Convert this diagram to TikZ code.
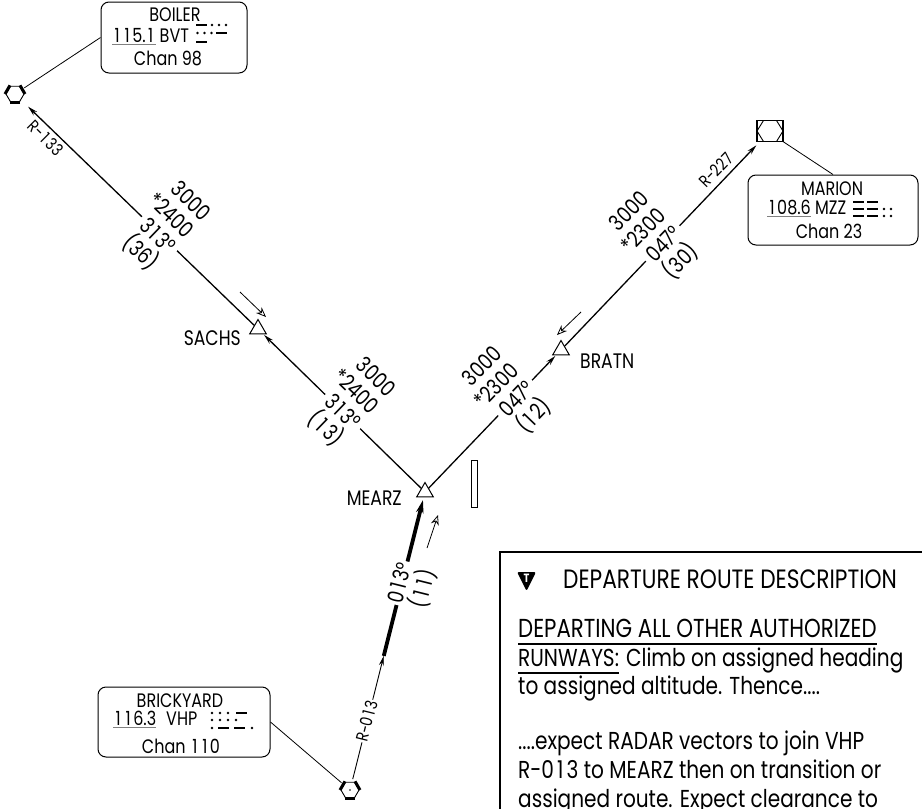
\documentclass[tikz,border=0pt]{standalone}
\usepackage{fontspec}
\setmainfont{Poppins}[FakeStretch=0.82]
\usetikzlibrary{arrows.meta,calc,shapes.geometric}
\newcommand\myul[1]{\setbox0\hbox{#1}\rlap{\rule[-7.5pt]{\wd0}{1.1pt}}\box0\relax}
\newcommand\myulg[1]{\setbox0\hbox{#1}\rlap{\textcolor{gray}{\rule[-3pt]{\wd0}{1pt}}}\box0\relax}
\newcommand\one{\hbox to \fontcharwd\font`0{\hss 1\hss}}
\tikzset{
 vortac/.pic={
   \draw[line width=0.9pt] (0:9) -- (-60:9) -- (-120:9) -- (180:9) -- (120:9) -- (60:9) -- cycle;
   \draw[line width=3pt] (0:10) -- (-60:10);
   \draw[line width=3pt] (-120:10) -- (180:10);
   \draw[line width=3pt] (60:10) -- (120:10);
 },
 vordme/.pic={
   \draw[line width=1.8pt] (-13,-10.5) rectangle (13,10.5);
   \draw[line width=0.9pt] (-13,0) -- (-6.5,-10.5) -- (6.5,-10.5) -- (13,0) -- (6.5,10.5) -- (-6.5,10.5) -- cycle;
 }
}
\begin{document}
\begin{tikzpicture}[x=1pt,y=-1pt,
  route/.style={line width=1.3pt},
  heavy/.style={line width=3.8pt},
  tipA/.style={-{Stealth[length=10pt,width=5pt]}},
  tipB/.style={-{Stealth[length=13pt,width=7.5pt]}},
  hollow/.style={line width=0.8pt,-{Stealth[open,length=10pt,width=8pt]}},
  wpt/.style={draw,line width=1pt,regular polygon,regular polygon sides=3,minimum size=19pt,inner sep=0pt},
  vor/.style={circle,minimum size=22pt,inner sep=0pt},
  fixname/.style={font=\fontsize{21}{24}\selectfont,inner sep=0pt},
  alt/.style={font=\fontsize{22}{24}\selectfont,align=center,fill=white,inner sep=2pt},
  radial/.style={font=\fontsize{17}{18}\selectfont,inner sep=1pt},
  navbox/.style={draw,line width=1pt,rounded corners=8pt,inner sep=0pt},
  boxtext/.style={font=\fontsize{19.5}{20}\selectfont,inner sep=0pt},
  desc/.style={font=\fontsize{24.5}{28}\selectfont,inner sep=0pt,anchor=base west},
  leader/.style={line width=0.8pt},
]
\useasboundingbox (0,0) rectangle (922,809);
\clip (0,0) rectangle (922,809);
% navaids
\node[vor] (bvt) at (15,94) {};
\node[minimum width=26pt,minimum height=21pt,inner sep=0pt] (mzz) at (770,131) {};
\node[vor] (vhp) at (350,790) {};
\pic at (bvt) {vortac};
\pic at (vhp) {vortac};
\fill (vhp) circle (0.8);
\pic at (mzz) {vordme};
% waypoints
\node[wpt] (SACHS) at (258,329) {};
\node[wpt] (MEARZ) at (425,492) {};
\node[wpt] (BRATN) at (561,350) {};
\node[fixname,anchor=base east] (sachsname) at (241,345) {SACHS};
\node[fixname,anchor=base east] (mearzname) at (402,505) {MEARZ};
\node[fixname,anchor=base west] (bratnname) at (580,368) {BRATN};
\coordinate (thk) at ($(vhp)!0.45!(MEARZ)$);
% routes
\draw[route,tipA,shorten >=7pt] (SACHS) -- (bvt);
\draw[route,tipA,shorten >=1pt] (MEARZ) -- (SACHS);
\draw[route,tipA,shorten >=1pt] (MEARZ) -- (BRATN);
\draw[route,tipA,shorten >=5pt] (BRATN) -- (mzz);
\draw[line width=0.9pt,tipA] (vhp) -- (thk);
\draw[heavy,tipB,shorten >=3pt] (thk) -- (MEARZ);
% route labels
\node[alt,rotate=-44] (l1) at (165,228) {3000\\\llap{*}2400\\3\one3°\\(36)};
\node[alt,rotate=-44] (l2) at (350,404) {3000\\\llap{*}2400\\3\one3°\\(\one3)};
\node[alt,rotate=46] (l3) at (509,392) {3000\\\llap{*}2300\\047°\\(\one2)};
\node[alt,rotate=46] (l4) at (656,237) {3000\\\llap{*}2300\\047°\\(30)};
\node[alt,rotate=76] (l5) at (413,586) {0\one3°\\(\one\one)};
\node[radial,rotate=-45] (r1) at (46,138) {R-\one33};
\node[radial,rotate=46] (r2) at (716,170) {R-227};
\node[radial,fill=white,rotate=76] (r3) at (367,721) {R-0\one3};
% hollow arrows
\coordinate (h1s) at (240,292); \coordinate (h1e) at (266,317);
\coordinate (h2s) at (581,312); \coordinate (h2e) at (557,335);
\coordinate (h3s) at (427,548); \coordinate (h3e) at (438,515);
\draw[hollow] (h1s) -- (h1e);
\draw[hollow] (h2s) -- (h2e);
\draw[hollow] (h3s) -- (h3e);
% runway
\draw[line width=0.8pt] (471,460) rectangle (477,507);
% navaid boxes
\node[navbox,minimum width=146pt,minimum height=71pt] (boilerbox) at (174,37.5) {};
\node[boxtext,anchor=base] (b1) at (175,21) {BOILER};
\node[boxtext,anchor=base west] (b2) at (112,42) {\myulg{\one\one5.\one}\hspace{4pt}BVT};
\node[boxtext,anchor=base] (b3) at (168,65) {Chan 98};
\node[navbox,minimum width=170pt,minimum height=70pt] (marionbox) at (833,210) {};
\node[boxtext,anchor=base] (m1) at (832,195) {MARION};
\node[boxtext,anchor=base west] (m2) at (767,214) {\myulg{\one08.6} MZZ};
\node[boxtext,anchor=base] (m3) at (829,238) {Chan 23};
\node[navbox,minimum width=172pt,minimum height=70pt] (brickbox) at (184,722) {};
\node[boxtext,anchor=base] (k1) at (180,707) {BRICKYARD};
\node[boxtext,anchor=base west] (k2) at (113,725) {\myulg{\one\one6.3}\hspace{10pt}VHP};
\node[boxtext,anchor=base] (k3) at (181,753) {Chan \one\one0};
\draw[leader] (boilerbox.west) -- (bvt);
\draw[leader] (mzz.south east) -- (marionbox.north);
\draw[leader] (brickbox.east) -- (vhp);
% morse codes
\begin{scope}
% BVT
\fill (196,23.8) rectangle (207,26.2); \fill (212,25) circle (1.3); \fill (219,25) circle (1.3); \fill (226,25) circle (1.3);
\fill (197.5,33) circle (1.3); \fill (204.5,33) circle (1.3); \fill (211.5,33) circle (1.3); \fill (216,31.8) rectangle (227,34.2);
\fill (196,40.8) rectangle (207,43.2);
% MZZ
\fill (853,200.8) rectangle (864,203.2); \fill (867,200.8) rectangle (878,203.2);
\fill (853,207.8) rectangle (864,210.2); \fill (867,207.8) rectangle (878,210.2); \fill (884,209) circle (1.3); \fill (891,209) circle (1.3);
\fill (853,214.8) rectangle (864,217.2); \fill (867,214.8) rectangle (878,217.2); \fill (884,216) circle (1.3); \fill (891,216) circle (1.3);
% VHP
\fill (212,713) circle (1.3); \fill (220,713) circle (1.3); \fill (228,713) circle (1.3); \fill (236,711.8) rectangle (247,714.2);
\fill (212,720) circle (1.3); \fill (220,720) circle (1.3); \fill (228,720) circle (1.3); \fill (236,720) circle (1.3);
\fill (212,728) circle (1.3); \fill (218,726.8) rectangle (229,729.2); \fill (234,726.8) rectangle (245,729.2); \fill (252,728) circle (1.3);
\end{scope}
% description box
\draw[line width=2pt] (500,552) rectangle (940,830);
\fill[rounded corners=2pt] (517,572) -- (536,572) -- (526.5,591) -- cycle;
\node[text=white,font=\fontsize{12}{12}\selectfont\bfseries,inner sep=0pt] (tlet) at (526.5,578.5) {T};
\node[desc,font=\fontsize{26.5}{28}\selectfont] (hdr) at (563,588) {DEPARTURE ROUTE DESCRIPTION};
\node[desc,font=\fontsize{26}{28}\selectfont] (d1) at (518,637) {\myul{DEPARTING ALL OTHER AUTHORIZED}};
\node[desc] (d2) at (518,666) {\myul{RUNWAYS:}\hspace{7pt}Climb on assigned heading};
\node[desc] (d3) at (518,694) {to assigned altitude. Thence....};
\node[desc] (d4) at (518,749) {....expect RADAR vectors to join VHP};
\node[desc] (d5) at (518,778) {R-0\one3 to MEARZ then on transition or};
\node[desc] (d6) at (518,807) {assigned route. Expect clearance to};
\end{tikzpicture}
\end{document}
